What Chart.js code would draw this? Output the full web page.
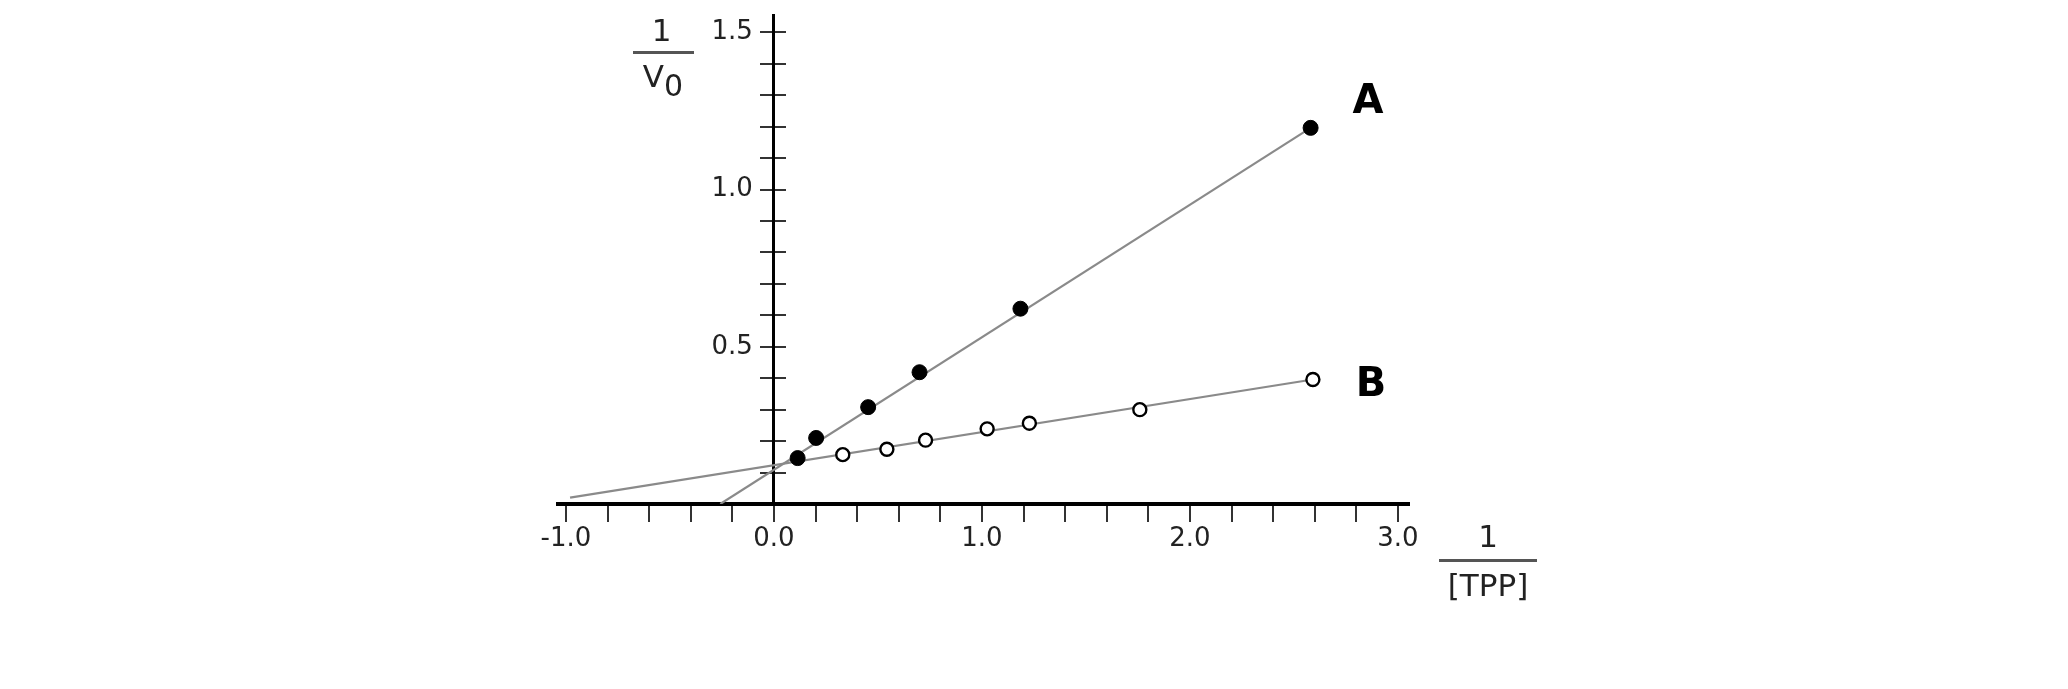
<!DOCTYPE html>
<html>
<head>
<meta charset="utf-8">
<title>Lineweaver-Burk TPP</title>
<script src="https://cdn.jsdelivr.net/npm/chart.js@4.4.1/dist/chart.umd.min.js"></script>
<style>
  body { margin: 0; background: #fff; }
  #wrap { position: relative; width: 2068px; height: 689px; }
  #wrap canvas { position: absolute; left: 0; top: 0; }
  .txt { position: absolute; font-family: 'DejaVu Sans', Verdana, sans-serif; color: #222;
         font-size: 31px; line-height: 31px; text-align: center; white-space: nowrap; }
  .bar { position: absolute; height: 3px; background: #555; }
  .lbl { position: absolute; font-family: 'DejaVu Sans', Verdana, sans-serif; font-weight: bold;
         font-size: 40px; line-height: 40px; color: #000; width: 100px; text-align: center; }
  sub { font-size: 30px; vertical-align: -9px; line-height: 0; }
</style>
</head>
<body>
<div id="wrap">
  <canvas id="chart" width="2068" height="689"></canvas>

  <div class="txt" style="left:631px; top:15px; width:61px;">1</div>
  <div class="bar" style="left:633px; top:51px; width:61px;"></div>
  <div class="txt" style="left:631px; top:61px; width:64px;">V<sub>0</sub></div>

  <div class="txt" style="left:1439px; top:521px; width:98px;">1</div>
  <div class="bar" style="left:1439px; top:559px; width:98px;"></div>
  <div class="txt" style="left:1439px; top:570px; width:98px;">[TPP]</div>

  <div class="lbl" style="left:1318px; top:79px;">A</div>
  <div class="lbl" style="left:1321px; top:362px;">B</div>
</div>

<script>
// 1/[TPP] and 1/V0
const seriesAx = [0.114, 0.203, 0.453, 0.70, 1.185, 2.58];
const seriesAy = [0.146, 0.21, 0.308, 0.419, 0.621, 1.196];
const seriesBx = [0.331, 0.543, 0.729, 1.025, 1.228, 1.759, 2.591];
const seriesBy = [0.157, 0.174, 0.203, 0.239, 0.257, 0.30, 0.396];

// fitted lines, end points as drawn
const lineAx = [-0.258, 2.58];
const lineAy = [0.0, 1.196];
const lineBx = [-0.98, 2.591];
const lineBy = [0.02, 0.396];

const xTickValues = [-1.0, -0.8, -0.6, -0.4, -0.2, 0.0, 0.2, 0.4, 0.6, 0.8, 1.0, 1.2, 1.4,
                     1.6, 1.8, 2.0, 2.2, 2.4, 2.6, 2.8, 3.0];
const xLabelValues = [-1.0, 0.0, 1.0, 2.0, 3.0];
const xLabels = ['-1.0', '0.0', '1.0', '2.0', '3.0'];

const yTickValues = [0.1, 0.2, 0.3, 0.4, 0.5, 0.6, 0.7, 0.8, 0.9, 1.0, 1.1, 1.2, 1.3, 1.4, 1.5];
const yLabelValues = [0.5, 1.0, 1.5];
const yLabels = ['0.5', '1.0', '1.5'];

const toPoints = (xs, ys) => xs.map((x, i) => ({ x: x, y: ys[i] }));

const tickFont = { family: "'DejaVu Sans', Verdana, sans-serif", size: 26 };
const tickColor = '#333';
const yMin = 0, yMax = 1.553;

const yTicks = (scale) => { scale.ticks = yTickValues.map(v => ({ value: v })); };
const pickLabel = (vals, labels) => (value) => {
    const i = vals.findIndex(v => Math.abs(v - value) < 1e-9);
    return i >= 0 ? labels[i] : '';
};

new Chart(document.getElementById('chart'), {
    type: 'scatter',
    data: {
        datasets: [
            {
                label: 'A',
                data: toPoints(seriesAx, seriesAy),
                pointRadius: 7.5,
                pointBackgroundColor: '#000',
                pointBorderColor: '#000',
                pointBorderWidth: 1
            },
            {
                label: 'B',
                data: toPoints(seriesBx, seriesBy),
                pointRadius: 6.5,
                pointBackgroundColor: '#fff',
                pointBorderColor: '#000',
                pointBorderWidth: 2.4
            },
            {
                label: 'fit A',
                data: toPoints(lineAx, lineAy),
                showLine: true,
                pointRadius: 0,
                borderColor: '#8a8a8a',
                borderWidth: 2.2
            },
            {
                label: 'fit B',
                data: toPoints(lineBx, lineBy),
                showLine: true,
                pointRadius: 0,
                borderColor: '#8a8a8a',
                borderWidth: 2.2
            }
        ]
    },
    options: {
        responsive: false,
        devicePixelRatio: 1,
        animation: false,
        layout: { padding: { left: 558, right: 659, top: 15, bottom: 185 } },
        plugins: { legend: { display: false }, tooltip: { enabled: false } },
        scales: {
            x: {
                type: 'linear',
                min: -1.038,
                max: 3.053,
                position: { y: 0 },
                border: { display: true, color: '#000', width: 4 },
                grid: { drawOnChartArea: false, drawTicks: true, tickLength: 16, color: tickColor, lineWidth: 2 },
                afterBuildTicks: (scale) => { scale.ticks = xTickValues.map(v => ({ value: v })); },
                ticks: {
                    autoSkip: false,
                    maxRotation: 0,
                    padding: 4,
                    font: tickFont,
                    color: '#222',
                    callback: pickLabel(xLabelValues, xLabels)
                }
            },
            // tick labels only, set a little left of the axis line
            y: {
                type: 'linear',
                min: yMin,
                max: yMax,
                position: { x: -0.101 },
                border: { display: false },
                grid: { display: false },
                afterBuildTicks: yTicks,
                ticks: {
                    autoSkip: false,
                    padding: 0,
                    font: tickFont,
                    color: '#222',
                    callback: pickLabel(yLabelValues, yLabels)
                }
            },
            // axis line and left half of the tick marks
            yLeft: {
                axis: 'y',
                type: 'linear',
                min: yMin,
                max: yMax,
                position: { x: 0 },
                border: { display: true, color: '#000', width: 3 },
                grid: { drawOnChartArea: false, drawTicks: true, tickLength: 12, color: tickColor, lineWidth: 2 },
                afterBuildTicks: yTicks,
                ticks: { display: false }
            },
            // right half of the crossing tick marks
            yRight: {
                axis: 'y',
                type: 'linear',
                min: yMin,
                max: yMax,
                position: { x: 0 },
                border: { display: false },
                grid: { drawOnChartArea: false, drawTicks: true, tickLength: -12, color: tickColor, lineWidth: 2 },
                afterBuildTicks: yTicks,
                ticks: { display: false }
            }
        }
    }
});
</script>
</body>
</html>
